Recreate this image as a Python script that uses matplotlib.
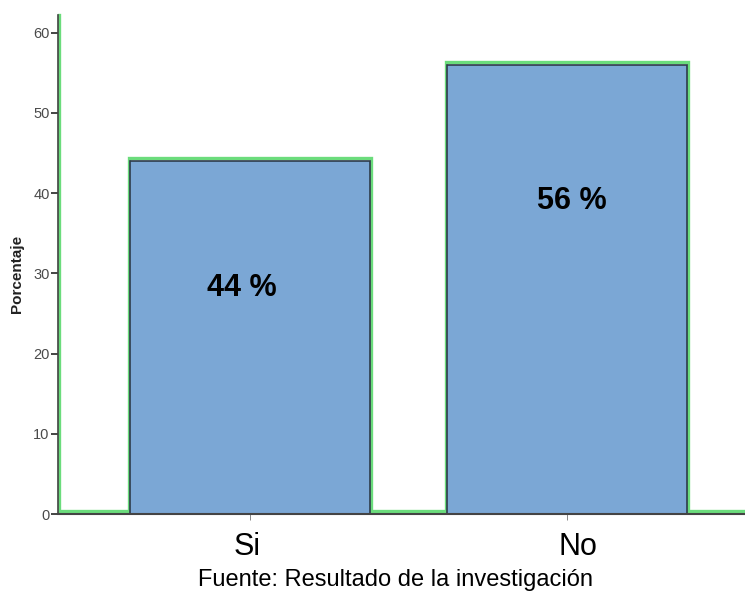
import matplotlib
matplotlib.use("Agg")
import matplotlib.pyplot as plt
import matplotlib.transforms as mtransforms

categories = ["Si", "No"]
values = [44, 56]
labels = ["44 %", "56 %"]
yticks = [0, 10, 20, 30, 40, 50, 60]

plt.rcParams['font.family'] = ['Liberation Sans', 'DejaVu Sans']

fig = plt.figure(figsize=(7.45, 5.93), dpi=100)
ax = fig.add_axes([58/745, 1 - 514/593, 1 - 58/745, (514 - 15)/593])

x = list(range(len(categories)))
width = 0.757
ax.bar(x, values, width=width, color='#7BA7D5', edgecolor='#2E3B4A', linewidth=1.2, zorder=2)

xmin, xmax = -0.606, 1.561
ytop = 62.2
ax.set_xlim(xmin, xmax)
ax.set_ylim(0, ytop)

# green outline (step)
gx = [xmin + 0.004, xmin + 0.004]
gy = [ytop, 0.35]
for xi, v in zip(x, values):
    l, r = xi - width/2, xi + width/2
    gx += [l - 0.004, l - 0.004, r + 0.004, r + 0.004]
    gy += [0.35, v + 0.35, v + 0.35, 0.35]
gx += [xmax]
gy += [0.35]
ax.plot(gx, gy, color='#6BDC7C', linewidth=2.4, zorder=1, solid_joinstyle='miter', clip_on=False)

# value labels (layout offsets)
label_dy = [-15.8, -17.0]
label_dx_px = [-8.5, 4.5]
for xi, v, lab, dy, dx in zip(x, values, labels, label_dy, label_dx_px):
    t = ax.transData + mtransforms.ScaledTranslation(dx/100, 0, fig.dpi_scale_trans)
    ax.text(xi, v + dy, lab, ha='center', va='center', fontsize=22, fontweight='bold',
            color='black', zorder=3, transform=t)

ax.set_yticks(yticks)
ax.set_yticklabels([str(t) for t in yticks], fontsize=10.5, color='#4a4a4a')
ax.tick_params(axis='y', direction='out', length=5, width=1.4, color='#444444', pad=1)
ax.set_xticks(x)
ax.set_xticklabels(categories, fontsize=22, color='black', va='baseline')
ax.tick_params(axis='x', direction='out', length=4, width=0.7, color='#888888', pad=25.5)
xlabel_dx_px = [-3, 11]
for lab, dx in zip(ax.get_xticklabels(), xlabel_dx_px):
    lab.set_transform(lab.get_transform() + mtransforms.ScaledTranslation(dx/100, 0, fig.dpi_scale_trans))

for s in ['top', 'right']:
    ax.spines[s].set_visible(False)
ax.spines['left'].set_color('#444444')
ax.spines['left'].set_linewidth(1.2)
ax.spines['bottom'].set_color('#444444')
ax.spines['bottom'].set_linewidth(1.5)

fig.text(17/745, 1 - 274/593, "Porcentaje", rotation=90, ha='center', va='center',
         fontsize=11, fontweight='bold', color='#222222')

fig.text(395/745, 1 - 586/593, "Fuente: Resultado de la investigación", ha='center', va='baseline',
         fontsize=17, color='black')

fig.savefig("out.png", dpi=100)
